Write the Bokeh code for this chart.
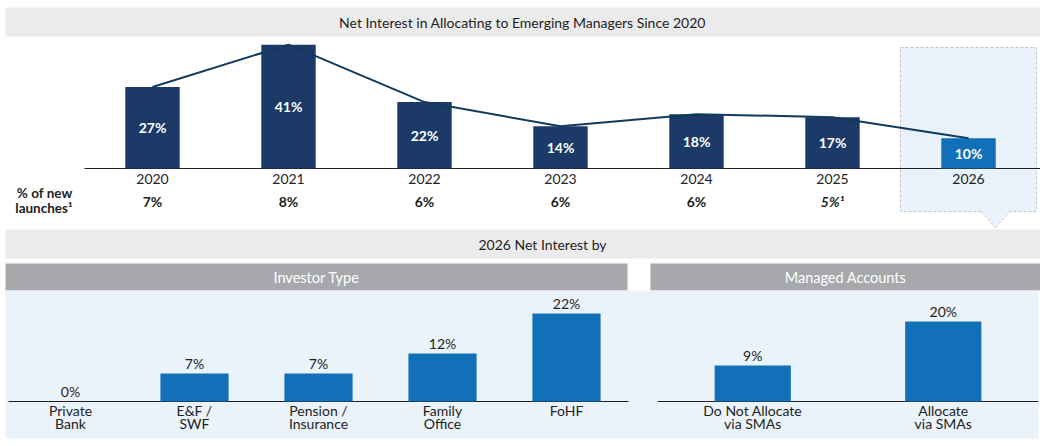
from bokeh.plotting import figure
from bokeh.models import ColumnDataSource, Range1d
from bokeh.core.properties import value
from bokeh.embed import file_html
from bokeh.resources import INLINE

# --- data -----------------------------------------------------------------
years = ["2020", "2021", "2022", "2023", "2024", "2025", "2026"]
net_interest = [27, 41, 22, 14, 18, 17, 10]
launch_share = ["7%", "8%", "6%", "6%", "6%", "5%\u00b9", ""]
highlight_year = "2026"

investor_types = ["Private\nBank", "E&F /\nSWF", "Pension /\nInsurance", "Family\nOffice", "FoHF"]
investor_interest = [0, 7, 7, 12, 22]

sma_groups = ["Do Not Allocate\nvia SMAs", "Allocate\nvia SMAs"]
sma_interest = [9, 20]

title_top = "Net Interest in Allocating to Emerging Managers Since 2020"
title_mid = "2026 Net Interest by"
header_left = "Investor Type"
header_right = "Managed Accounts"
launch_label = "% of new\nlaunches\u00b9"

# --- look -----------------------------------------------------------------
W, H = 1040, 440
FONT = value("Lato")
NAVY = "#1b3a67"
BLUE = "#1170b8"
LINE = "#113b5e"
INK = "#1e1e1e"
BAR_GREY = "#ebebeb"
HEAD_GREY = "#a7a8ab"
PANEL = "#eaf2fa"
BOX = "#e9f1fa"
DASH = "#c3c7cc"


def xspan(px0, val0, ppu):
    # x range where val0 sits at pixel px0 and one unit is ppu pixels wide
    return Range1d(val0 - px0 / ppu, val0 + (W - px0) / ppu)


def yspan(py0, val0, ppu):
    # y range where val0 sits at pixel py0 (from the top), ppu pixels per unit
    return Range1d(val0 + (py0 - H) / ppu, val0 + py0 / ppu)


p = figure(width=W, height=H, x_range=Range1d(0, W), y_range=Range1d(H, 0),
           output_backend="svg", toolbar_location=None, min_border=0,
           x_axis_location=None, y_axis_location=None, outline_line_color=None)
p.xgrid.visible = False
p.ygrid.visible = False
p.background_fill_color = "white"
p.border_fill_color = "white"

p.extra_x_ranges = {
    "top": xspan(152, 0, 136),
    "inv": xspan(70, 0, 124),
    "sma": xspan(752.25, 0, 190.5),
}
p.extra_y_ranges = {
    "top": yspan(168, 0, 3.02),
    "low": yspan(401, 0, 4.0),
}

# --- backgrounds ----------------------------------------------------------
p.quad(left=5, right=1040, top=7, bottom=36, fill_color=BAR_GREY, line_color=None)
p.quad(left=5, right=1040, top=229, bottom=258, fill_color=BAR_GREY, line_color=None)
p.quad(left=5, right=627, top=263, bottom=290, fill_color=HEAD_GREY, line_color=None)
p.quad(left=650, right=1040, top=263, bottom=290, fill_color=HEAD_GREY, line_color=None)
p.quad(left=5, right=1038, top=290, bottom=438, fill_color=PANEL, line_color=None)

# highlight box around the forecast year
hi = years.index(highlight_year)
p.quad(left=hi - 0.5, right=hi + 0.5, top=47, bottom=211, x_range_name="top",
       fill_color=BOX, line_color=DASH, line_width=1, line_dash="3 2")
p.patch(x=[980, 995, 1010], y=[210, 227, 210], fill_color=BOX, line_color=None)
p.multi_line(xs=[[980, 995], [995, 1010]], ys=[[211, 227], [227, 211]],
             line_color=DASH, line_width=1, line_dash="3 2")

# --- top chart --------------------------------------------------------------
top_src = ColumnDataSource(dict(
    idx=list(range(len(years))),
    val=net_interest,
    mid=[v / 2 for v in net_interest],
    label=[f"{v}%" for v in net_interest],
    year=years,
    launch=launch_share,
    style=["bold italic" if "\u00b9" in s else "bold" for s in launch_share],
    color=[BLUE if y == highlight_year else NAVY for y in years],
))

p.line(x=[-0.5, len(years) - 0.47], y=[0, 0], x_range_name="top", y_range_name="top",
       line_color=INK, line_width=1.2)
p.vbar(x="idx", top="val", bottom=0, width=0.4, source=top_src,
       x_range_name="top", y_range_name="top", fill_color="color", line_color=None)
p.line(x="idx", y="val", source=top_src, x_range_name="top", y_range_name="top",
       line_color=LINE, line_width=2)
p.text(x="idx", y="mid", text="label", source=top_src, x_range_name="top", y_range_name="top",
       text_color="white", text_font=FONT, text_font_style="bold", text_font_size="14px",
       text_align="center", text_baseline="middle")
p.text(x="idx", y=178, text="year", source=top_src, x_range_name="top",
       text_color=INK, text_font=FONT, text_font_size="14px",
       text_align="center", text_baseline="middle")
p.text(x="idx", y=201, text="launch", source=top_src, x_range_name="top",
       text_color=INK, text_font=FONT, text_font_style="style", text_font_size="14px",
       text_align="center", text_baseline="middle")
p.text(x=[72], y=[200], text=[launch_label], text_color=INK, text_font=FONT,
       text_font_style="bold", text_font_size="13.5px", text_align="right",
       text_baseline="middle", text_line_height=0.9)

# --- titles -----------------------------------------------------------------
p.text(x=[522], y=[22], text=[title_top], text_color=INK, text_font=FONT,
       text_font_size="14px", text_align="center", text_baseline="middle")
p.text(x=[542], y=[244], text=[title_mid], text_color=INK, text_font=FONT,
       text_font_size="14px", text_align="center", text_baseline="middle")
p.text(x=[316, 845], y=[277, 277], text=[header_left, header_right], text_color="white",
       text_font=FONT, text_font_size="14.5px", text_align="center", text_baseline="middle")

# --- lower panels -----------------------------------------------------------
for name, cats, vals, width in [("inv", investor_types, investor_interest, 0.55),
                                ("sma", sma_groups, sma_interest, 0.4)]:
    src = ColumnDataSource(dict(
        idx=list(range(len(cats))),
        val=vals,
        label=[f"{v}%" for v in vals],
        cat=cats,
    ))
    p.line(x=[-0.5, len(cats) - 0.5], y=[0, 0], x_range_name=name, y_range_name="low",
           line_color=INK, line_width=1.2)
    p.vbar(x="idx", top="val", bottom=0, width=width, source=src,
           x_range_name=name, y_range_name="low", fill_color=BLUE, line_color=None)
    p.text(x="idx", y="val", text="label", source=src, x_range_name=name, y_range_name="low",
           y_offset=-2, text_color=INK, text_font=FONT, text_font_size="14px",
           text_align="center", text_baseline="bottom")
    p.text(x="idx", y=401, text="cat", source=src, x_range_name=name,
           text_color=INK, text_font=FONT, text_font_size="14px",
           text_align="center", text_baseline="top", text_line_height=0.8)

open("out.html", "w").write(file_html(p, INLINE))
